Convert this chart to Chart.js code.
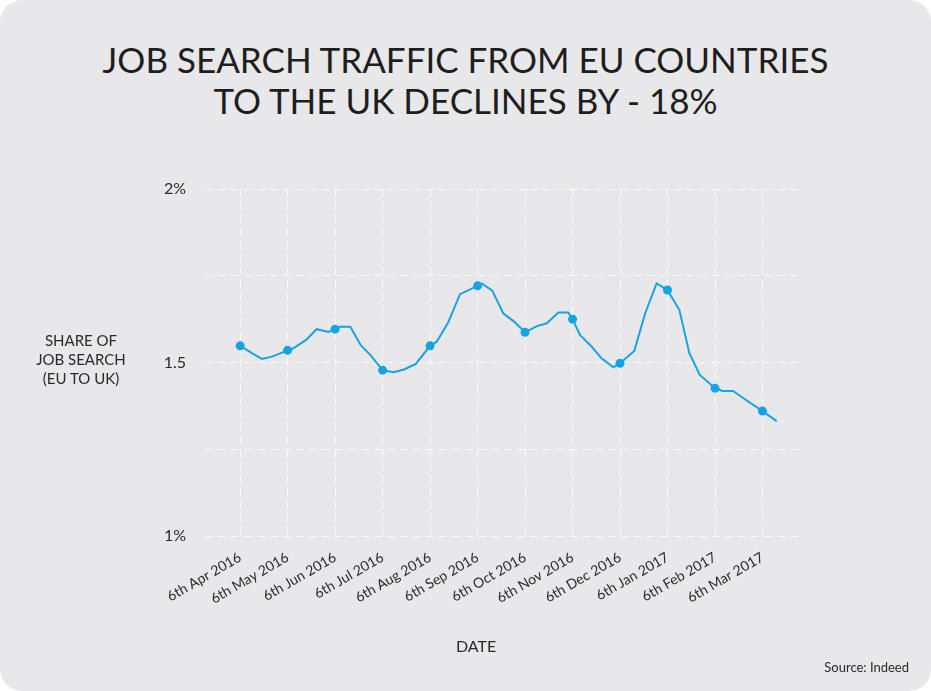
<!DOCTYPE html>
<html>
<head>
<meta charset="utf-8">
<script src="https://cdn.jsdelivr.net/npm/chart.js@4.4.1/dist/chart.umd.min.js"></script>
<style>
  html, body { margin: 0; padding: 0; background: #ffffff; }
  #card { position: absolute; left: 0; top: 0; width: 931px; height: 691px; background: #e8e8ea; border-radius: 22px; overflow: hidden; font-family: Lato, "Open Sans", sans-serif; color: #222; }
  #title { position: absolute; left: 0; width: 931px; top: 39px; text-align: center; font-size: 35px; line-height: 41px; color: #1e1e1e; }
  #ytitle { position: absolute; left: 20px; width: 122px; top: 331px; text-align: center; font-size: 15px; line-height: 19px; color: #2a2a2a; }
  #xtitle { position: absolute; left: 436px; width: 80px; top: 636px; text-align: center; font-size: 16px; color: #2a2a2a; }
  #source { position: absolute; right: 22px; top: 659px; font-size: 13px; color: #2a2a2a; }
  #wrap { position: absolute; left: 0; top: 0; width: 931px; height: 691px; }
</style>
</head>
<body>
<div id="card">
  <div id="title">JOB SEARCH TRAFFIC FROM EU COUNTRIES<br>TO THE UK DECLINES BY - 18%</div>
  <div id="wrap"><canvas id="c" width="931" height="691"></canvas></div>
  <div id="ytitle">SHARE OF<br>JOB SEARCH<br>(EU TO UK)</div>
  <div id="xtitle">DATE</div>
  <div id="source">Source: Indeed</div>
</div>
<script>
// Month tick labels (x positions are month indices 0..11)
const monthLabels = ["6th Apr 2016","6th May 2016","6th Jun 2016","6th Jul 2016","6th Aug 2016","6th Sep 2016","6th Oct 2016","6th Nov 2016","6th Dec 2016","6th Jan 2017","6th Feb 2017","6th Mar 2017"];
// Position of each observation, in months after 6th Apr 2016
const obsMonth = [0,0.25,0.46,0.67,1,1.12,1.39,1.61,1.86,2,2.1,2.32,2.54,2.74,3,3.23,3.45,3.7,4,4.14,4.38,4.63,5,5.09,5.31,5.54,5.75,6,6.25,6.46,6.7,6.91,7,7.16,7.4,7.61,7.86,8,8.3,8.53,8.77,9,9.25,9.46,9.68,10,10.16,10.38,10.63,11,11.3];
// Share of job search (EU to UK), %
const shareValues = [1.548,1.527,1.510,1.517,1.535,1.541,1.565,1.596,1.588,1.596,1.603,1.603,1.550,1.522,1.478,1.472,1.480,1.496,1.548,1.560,1.615,1.697,1.721,1.728,1.707,1.642,1.620,1.587,1.605,1.613,1.644,1.644,1.625,1.579,1.546,1.512,1.486,1.498,1.533,1.642,1.728,1.709,1.651,1.527,1.464,1.426,1.418,1.418,1.394,1.360,1.331];
const yTicks = [1, 1.25, 1.5, 1.75, 2];
const yTickLabels = {1: "1%", 1.5: "1.5", 2: "2%"};

const lineColor = "#16a3e6";
const points = obsMonth.map((m, i) => ({x: m, y: shareValues[i]}));

new Chart(document.getElementById("c"), {
  type: "line",
  data: {
    datasets: [{
      data: points,
      borderColor: lineColor,
      backgroundColor: lineColor,
      borderWidth: 2,
      tension: 0,
      pointRadius: ctx => Number.isInteger(ctx.raw && ctx.raw.x) ? 4.5 : 0,
      pointBorderWidth: 0,
      pointHoverRadius: 0
    }]
  },
  options: {
    responsive: false,
    animation: false,
    events: [],
    layout: { padding: { top: 189, right: 131, left: 0, bottom: 0 } },
    plugins: { legend: { display: false }, tooltip: { enabled: false } },
    scales: {
      x: {
        type: "linear",
        min: -0.74,
        max: 11.79,
        afterBuildTicks: s => { s.ticks = monthLabels.map((_, i) => ({value: i})); },
        afterFit: s => { s.height = 155; },
        grid: { color: "rgba(255,255,255,0.8)", lineWidth: 1, drawTicks: false },
        border: { display: false, dash: [8, 5] },
        ticks: {
          autoSkip: false,
          minRotation: 30,
          maxRotation: 30,
          padding: 13,
          color: "#2a2a2a",
          font: { family: "Lato", size: 14 },
          callback: v => monthLabels[v]
        }
      },
      y: {
        type: "linear",
        min: 1,
        max: 2,
        afterBuildTicks: s => { s.ticks = yTicks.map(v => ({value: v})); },
        afterFit: s => { s.width = 205; },
        grid: { color: "rgba(255,255,255,0.8)", lineWidth: 1, drawTicks: false },
        border: { display: false, dash: [8, 5] },
        ticks: {
          padding: 19,
          color: "#2a2a2a",
          font: { family: "Lato", size: 16 },
          callback: v => yTickLabels[v] || ""
        }
      }
    }
  }
});
</script>
</body>
</html>
